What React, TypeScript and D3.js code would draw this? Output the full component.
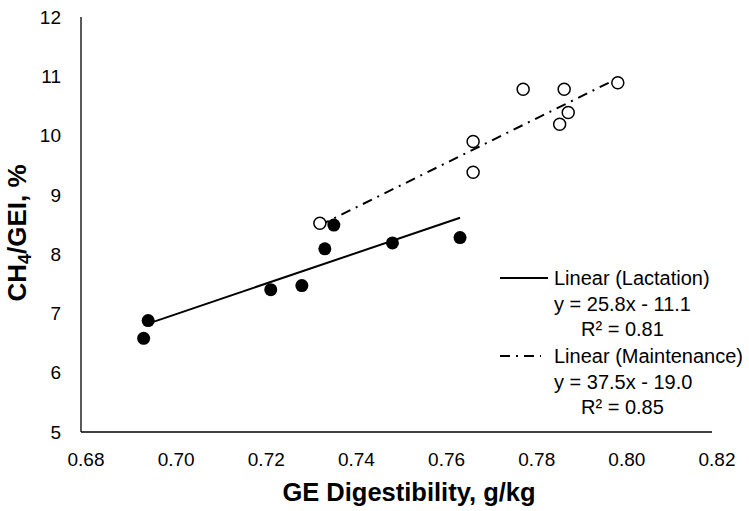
import * as d3 from 'd3';

// Lactation (filled) and Maintenance (open) observations
const lactX = [0.6939, 0.6949, 0.7221, 0.7290, 0.7341, 0.7361, 0.7491, 0.7641];
const lactY = [6.58, 6.88, 7.40, 7.47, 8.09, 8.49, 8.19, 8.28];
const maintX = [0.7330, 0.7670, 0.7670, 0.7781, 0.7862, 0.7872, 0.7881, 0.7991];
const maintY = [8.52, 9.90, 9.38, 10.78, 10.19, 10.78, 10.39, 10.89];

// trendlines: slope, intercept, x range
const lactFit = { slope: 25.8, intercept: -11.1, from: 0.6949, to: 0.7641 };
const maintFit = { slope: 37.5, intercept: -19.0, from: 0.7330, to: 0.7991 };

const xTicks = [0.68, 0.70, 0.72, 0.74, 0.76, 0.78, 0.80, 0.82];
const yTicks = [5, 6, 7, 8, 9, 10, 11, 12];

const legendItems = [
  { name: 'Linear (Lactation)', eq: 'y = 25.8x - 11.1', r2: 'R² = 0.81', dash: '' },
  { name: 'Linear (Maintenance)', eq: 'y = 37.5x - 19.0', r2: 'R² = 0.85', dash: '10,6,2,6' },
];

const font = '"Liberation Sans", Arial, sans-serif';

const App = () => {
  const width = 749;
  const height = 511;
  const x = d3.scaleLinear().domain([0.68, 0.82]).range([81, 712]);
  const y = d3.scaleLinear().domain([5, 12]).range([432, 17]);

  const fitLine = (f: { slope: number; intercept: number; from: number; to: number }) =>
    d3.line<number>()
      .x((d) => x(d))
      .y((d) => y(f.slope * d + f.intercept))([f.from, f.to]) || '';

  return (
    <svg width={width} height={height} style={{ position: 'absolute', left: 0, top: 0 }}>
      <rect width={width} height={height} fill="#fff" />

      {/* axes */}
      <line x1={x(0.68)} x2={x(0.68)} y1={y(12)} y2={y(5)} stroke="#000" strokeWidth={1.3} />
      <line x1={x(0.68)} x2={x(0.82)} y1={y(5)} y2={y(5)} stroke="#000" strokeWidth={1.3} />

      {yTicks.map((t) => (
        <text key={t} x={61} y={y(t)} dy="0.35em" textAnchor="end"
          fontFamily={font} fontSize={19} fill="#000">{t}</text>
      ))}
      {xTicks.map((t) => (
        <text key={t} x={x(t) + 5} y={466} textAnchor="middle"
          fontFamily={font} fontSize={19} fill="#000">{t.toFixed(2)}</text>
      ))}

      {/* trendlines */}
      <path d={fitLine(lactFit)} fill="none" stroke="#000" strokeWidth={2} />
      <path d={fitLine(maintFit)} fill="none" stroke="#000" strokeWidth={2} strokeDasharray="10,6,2,6" />

      {/* points */}
      {maintX.map((v, i) => (
        <circle key={'m' + i} cx={x(v)} cy={y(maintY[i])} r={6} fill="#fff" stroke="#000" strokeWidth={1.5} />
      ))}
      {lactX.map((v, i) => (
        <circle key={'l' + i} cx={x(v)} cy={y(lactY[i])} r={6.5} fill="#000" />
      ))}

      {/* legend */}
      {legendItems.map((it, i) => {
        const base = 285 + i * 78;
        return (
          <g key={it.name} fontFamily={font} fontSize={20} fill="#000">
            <line x1={500} x2={it.dash ? 541 : 548} y1={base - 7} y2={base - 7}
              stroke="#000" strokeWidth={2} strokeDasharray={it.dash || undefined} />
            <text x={554} y={base}>{it.name}</text>
            <text x={554} y={base + 26}>{it.eq}</text>
            <text x={581} y={base + 51}>{it.r2}</text>
          </g>
        );
      })}

      {/* axis titles */}
      <text x={409} y={501} textAnchor="middle" fontFamily={font} fontSize={25.5} fontWeight="bold">
        GE Digestibility, g/kg
      </text>
      <text transform="translate(26,233) rotate(-90)" textAnchor="middle" fontFamily={font}
        fontSize={26} fontWeight="bold">
        CH<tspan fontSize={18} dy={5}>4</tspan><tspan dy={-5}>/GEI, %</tspan>
      </text>
    </svg>
  );
};

export default App;
